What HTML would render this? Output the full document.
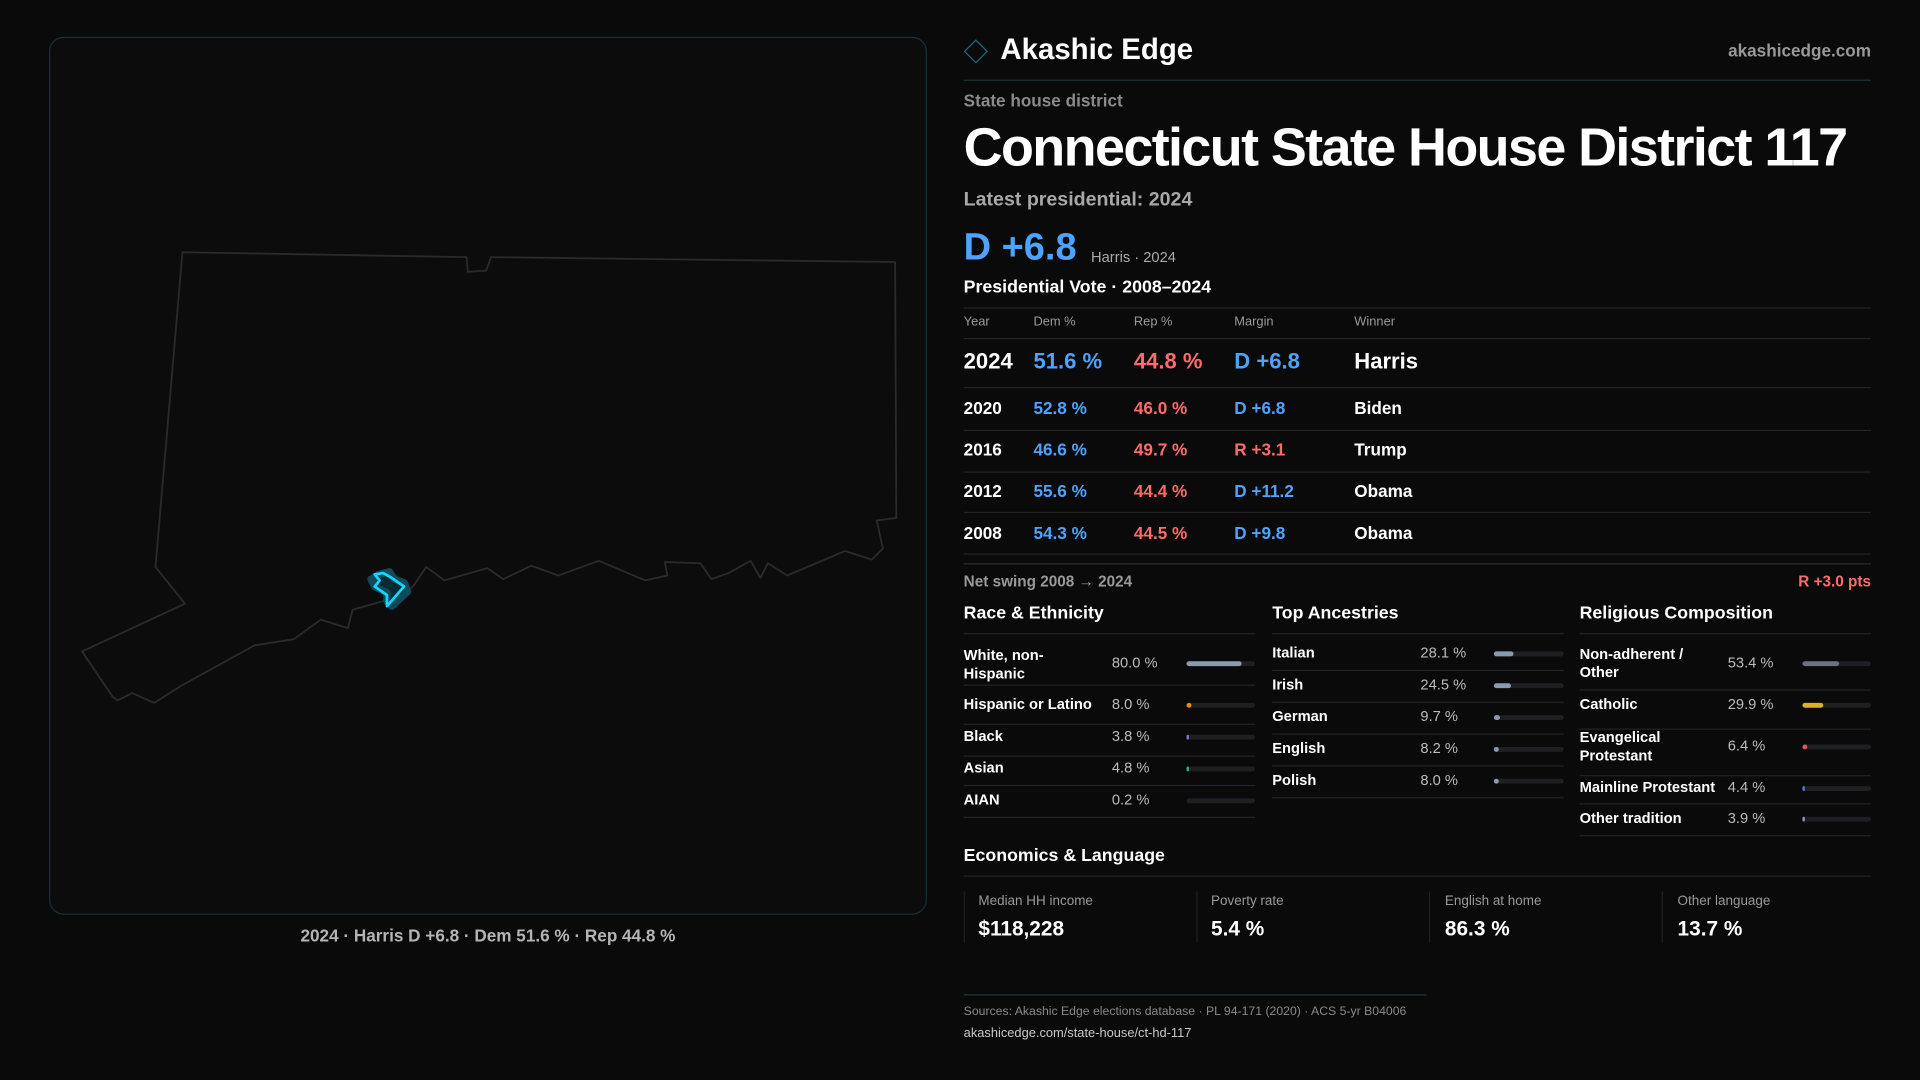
<!DOCTYPE html>
<html><head><meta charset="utf-8"><style>
*{margin:0;padding:0;box-sizing:border-box}
html,body{width:1920px;height:1080px;background:#0a0a0b;overflow:hidden;font-family:"Liberation Sans",sans-serif;color:#fff}
#s{position:absolute;left:0;top:0;width:1568px;height:882px;transform:scale(1.2244898);transform-origin:0 0}
.a{position:absolute;white-space:nowrap;line-height:1}
.ln{position:absolute;height:1px;background:#222326}
.g{color:#9a9a9a}
.b{font-weight:bold}
.bar{position:absolute;height:4px;border-radius:2px;background:#1e1f22}
.bar i{position:absolute;left:0;top:0;height:4px;border-radius:2px;display:block}
</style></head><body><div id="s">
<div style="position:absolute;left:40px;top:30px;width:717px;height:717px;border:1px solid #15303a;border-radius:12px;background:#0c0c0d;overflow:hidden">
<svg width="717" height="717" viewBox="40 30 717 717" style="position:absolute;left:-1px;top:-1px">
<polygon fill="none" stroke="#2a2a2c" stroke-width="1.5" stroke-linejoin="round" points="149,206 381,210 382,222 397,221 401,210 731,214 732,423 716,425 721,448 712,457 690,450 643,470 627,460 621,472 613,458 595,468 581,473 572,460 543,459 545,470 527,474 489,458 456,470 434,462 411,473 398,464 363,474 348,463 338,478 330,486 288,498 284,513 262,506 240,522 208,527 148,560 126,574 108,566 96,572 92,569 67,532 151,493 127,463"/>
<path d="M310,469 L318,467 L322,473 L330,476 L333,483 L320,495 L316,491 L316,484 L306,479 L303,473 Z" fill="#0a2a33" stroke="#0e4a58" stroke-width="6" stroke-linejoin="round"/>
<path d="M306,469 L313,468 L320,472 L330,479 L316,495 L316,486 L306,479 L310,474 Z" fill="none" stroke="#19d4ff" stroke-width="2.2" stroke-linejoin="round"/>
</svg></div>
<div class="a b" style="left:0;width:797px;text-align:center;top:757px;font-size:14px;color:#b4b4b4">2024 · Harris D +6.8 · Dem 51.6 % · Rep 44.8 %</div>

<div style="position:absolute;left:790px;top:35px;width:14px;height:14px;border:1.5px solid #1a6f7a;transform:rotate(45deg)"></div>
<div class="a b" style="left:817px;top:29px;font-size:24px">Akashic Edge</div>
<div class="a b g" style="right:40px;top:34px;font-size:14px;color:#999">akashicedge.com</div>
<div class="ln" style="left:787px;width:741px;top:65px;background:#1b3439"></div>
<div class="a b" style="left:787px;top:75px;font-size:14px;color:#8a8a8a">State house district</div>
<div class="a b" style="left:787px;top:99px;font-size:44px;letter-spacing:-1.3px">Connecticut State House District 117</div>
<div class="a b" style="left:787px;top:156px;font-size:16px;color:#a8a8a8">Latest presidential: 2024</div>
<div class="a b" style="left:787px;top:186px;font-size:31px;color:#4da3ff">D +6.8</div>
<div class="a" style="left:891px;top:204px;font-size:12px;color:#aaa">Harris · 2024</div>
<div class="a b" style="left:787px;top:228px;font-size:14.5px">Presidential Vote · 2008–2024</div>
<div class="ln" style="left:787px;width:741px;top:251px"></div>
<div class="a g" style="left:787px;top:258px;font-size:10.5px">Year</div>
<div class="a g" style="left:844px;top:258px;font-size:10.5px">Dem %</div>
<div class="a g" style="left:926px;top:258px;font-size:10.5px">Rep %</div>
<div class="a g" style="left:1008px;top:258px;font-size:10.5px">Margin</div>
<div class="a g" style="left:1106px;top:258px;font-size:10.5px">Winner</div>
<div class="ln" style="left:787px;width:741px;top:276px"></div>
<div class="a b" style="left:787px;top:286px;font-size:18px">2024</div>
<div class="a b" style="left:844px;top:286px;font-size:18px;color:#4da3ff">51.6 %</div>
<div class="a b" style="left:926px;top:286px;font-size:18px;color:#ff6b6b">44.8 %</div>
<div class="a b" style="left:1008px;top:286px;font-size:18px;color:#4da3ff">D +6.8</div>
<div class="a b" style="left:1106px;top:286px;font-size:18px">Harris</div>
<div class="ln" style="left:787px;width:741px;top:316px"></div>
<div class="a b" style="left:787px;top:326px;font-size:14px">2020</div><div class="a b" style="left:844px;top:326px;font-size:14px;color:#4da3ff">52.8 %</div><div class="a b" style="left:926px;top:326px;font-size:14px;color:#ff6b6b">46.0 %</div><div class="a b" style="left:1008px;top:326px;font-size:14px;color:#4da3ff">D +6.8</div><div class="a b" style="left:1106px;top:326px;font-size:14px">Biden</div>
<div class="ln" style="left:787px;width:741px;top:351px"></div>
<div class="a b" style="left:787px;top:360px;font-size:14px">2016</div><div class="a b" style="left:844px;top:360px;font-size:14px;color:#4da3ff">46.6 %</div><div class="a b" style="left:926px;top:360px;font-size:14px;color:#ff6b6b">49.7 %</div><div class="a b" style="left:1008px;top:360px;font-size:14px;color:#ff6b6b">R +3.1</div><div class="a b" style="left:1106px;top:360px;font-size:14px">Trump</div>
<div class="ln" style="left:787px;width:741px;top:385px"></div>
<div class="a b" style="left:787px;top:394px;font-size:14px">2012</div><div class="a b" style="left:844px;top:394px;font-size:14px;color:#4da3ff">55.6 %</div><div class="a b" style="left:926px;top:394px;font-size:14px;color:#ff6b6b">44.4 %</div><div class="a b" style="left:1008px;top:394px;font-size:14px;color:#4da3ff">D +11.2</div><div class="a b" style="left:1106px;top:394px;font-size:14px">Obama</div>
<div class="ln" style="left:787px;width:741px;top:418px"></div>
<div class="a b" style="left:787px;top:428px;font-size:14px">2008</div><div class="a b" style="left:844px;top:428px;font-size:14px;color:#4da3ff">54.3 %</div><div class="a b" style="left:926px;top:428px;font-size:14px;color:#ff6b6b">44.5 %</div><div class="a b" style="left:1008px;top:428px;font-size:14px;color:#4da3ff">D +9.8</div><div class="a b" style="left:1106px;top:428px;font-size:14px">Obama</div>
<div class="ln" style="left:787px;width:741px;top:452px"></div>
<div class="ln" style="left:787px;width:741px;top:460px;background:#2a2b2e"></div>
<div class="a b" style="left:787px;top:469px;font-size:12.5px;color:#999">Net swing 2008 → 2024</div>
<div class="a b" style="right:40px;top:469px;font-size:12.5px;color:#ff6b6b">R +3.0 pts</div>

<div class="a b" style="left:787px;top:494px;font-size:14.5px">Race &amp; Ethnicity</div>
<div class="a b" style="left:1039px;top:494px;font-size:14.5px">Top Ancestries</div>
<div class="a b" style="left:1290px;top:494px;font-size:14.5px">Religious Composition</div>
<div class="ln" style="left:787px;width:238px;top:517px"></div>
<div class="ln" style="left:1039px;width:238px;top:517px"></div>
<div class="ln" style="left:1290px;width:238px;top:517px"></div>

<div class="a b" style="left:787px;top:528px;font-size:12px;line-height:15px">White, non-<br>Hispanic</div><div class="a" style="left:908px;top:535px;font-size:12px;color:#bbb">80.0 %</div><div class="bar" style="left:969px;top:540px;width:56px"><i style="width:45px;background:#8d9aae"></i></div>
<div class="ln" style="left:787px;width:238px;top:559px"></div>
<div class="a b" style="left:787px;top:569px;font-size:12px">Hispanic or Latino</div><div class="a" style="left:908px;top:569px;font-size:12px;color:#bbb">8.0 %</div><div class="bar" style="left:969px;top:574px;width:56px"><i style="width:4px;background:#e8900c"></i></div>
<div class="ln" style="left:787px;width:238px;top:591px"></div>
<div class="a b" style="left:787px;top:595px;font-size:12px">Black</div><div class="a" style="left:908px;top:595px;font-size:12px;color:#bbb">3.8 %</div><div class="bar" style="left:969px;top:600px;width:56px"><i style="width:2px;background:#8b6fd6"></i></div>
<div class="ln" style="left:787px;width:238px;top:617px"></div>
<div class="a b" style="left:787px;top:621px;font-size:12px">Asian</div><div class="a" style="left:908px;top:621px;font-size:12px;color:#bbb">4.8 %</div><div class="bar" style="left:969px;top:626px;width:56px"><i style="width:2px;background:#2db37a"></i></div>
<div class="ln" style="left:787px;width:238px;top:641px"></div>
<div class="a b" style="left:787px;top:647px;font-size:12px">AIAN</div><div class="a" style="left:908px;top:647px;font-size:12px;color:#bbb">0.2 %</div><div class="bar" style="left:969px;top:652px;width:56px"></div>
<div class="ln" style="left:787px;width:238px;top:667px"></div>

<div class="a b" style="left:1039px;top:527px;font-size:12px">Italian</div><div class="a" style="left:1160px;top:527px;font-size:12px;color:#bbb">28.1 %</div><div class="bar" style="left:1220px;top:532px;width:57px"><i style="width:16px;background:#8d9aae"></i></div>
<div class="ln" style="left:1039px;width:238px;top:547px"></div>
<div class="a b" style="left:1039px;top:553px;font-size:12px">Irish</div><div class="a" style="left:1160px;top:553px;font-size:12px;color:#bbb">24.5 %</div><div class="bar" style="left:1220px;top:558px;width:57px"><i style="width:14px;background:#8d9aae"></i></div>
<div class="ln" style="left:1039px;width:238px;top:573px"></div>
<div class="a b" style="left:1039px;top:579px;font-size:12px">German</div><div class="a" style="left:1160px;top:579px;font-size:12px;color:#bbb">9.7 %</div><div class="bar" style="left:1220px;top:584px;width:57px"><i style="width:5px;background:#8d9aae"></i></div>
<div class="ln" style="left:1039px;width:238px;top:599px"></div>
<div class="a b" style="left:1039px;top:605px;font-size:12px">English</div><div class="a" style="left:1160px;top:605px;font-size:12px;color:#bbb">8.2 %</div><div class="bar" style="left:1220px;top:610px;width:57px"><i style="width:4px;background:#8d9aae"></i></div>
<div class="ln" style="left:1039px;width:238px;top:625px"></div>
<div class="a b" style="left:1039px;top:631px;font-size:12px">Polish</div><div class="a" style="left:1160px;top:631px;font-size:12px;color:#bbb">8.0 %</div><div class="bar" style="left:1220px;top:636px;width:57px"><i style="width:4px;background:#8d9aae"></i></div>
<div class="ln" style="left:1039px;width:238px;top:651px"></div>

<div class="a b" style="left:1290px;top:527px;font-size:12px;line-height:15px">Non-adherent /<br>Other</div><div class="a" style="left:1411px;top:535px;font-size:12px;color:#bbb">53.4 %</div><div class="bar" style="left:1472px;top:540px;width:56px"><i style="width:30px;background:#6b7280"></i></div>
<div class="ln" style="left:1290px;width:238px;top:563px"></div>
<div class="a b" style="left:1290px;top:569px;font-size:12px">Catholic</div><div class="a" style="left:1411px;top:569px;font-size:12px;color:#bbb">29.9 %</div><div class="bar" style="left:1472px;top:574px;width:56px"><i style="width:17px;background:#e0b020"></i></div>
<div class="ln" style="left:1290px;width:238px;top:595px"></div>
<div class="a b" style="left:1290px;top:595px;font-size:12px;line-height:15px">Evangelical<br>Protestant</div><div class="a" style="left:1411px;top:603px;font-size:12px;color:#bbb">6.4 %</div><div class="bar" style="left:1472px;top:608px;width:56px"><i style="width:4px;background:#e05555"></i></div>
<div class="ln" style="left:1290px;width:238px;top:633px"></div>
<div class="a b" style="left:1290px;top:637px;font-size:12px">Mainline Protestant</div><div class="a" style="left:1411px;top:637px;font-size:12px;color:#bbb">4.4 %</div><div class="bar" style="left:1472px;top:642px;width:56px"><i style="width:2px;background:#4a7fd6"></i></div>
<div class="ln" style="left:1290px;width:238px;top:656px"></div>
<div class="a b" style="left:1290px;top:662px;font-size:12px">Other tradition</div><div class="a" style="left:1411px;top:662px;font-size:12px;color:#bbb">3.9 %</div><div class="bar" style="left:1472px;top:667px;width:56px"><i style="width:2px;background:#8d9aae"></i></div>
<div class="ln" style="left:1290px;width:238px;top:682px"></div>

<div class="a b" style="left:787px;top:692px;font-size:14.5px">Economics &amp; Language</div>
<div class="ln" style="left:787px;width:741px;top:715px"></div>
<div style="position:absolute;left:787px;top:728px;width:1px;height:42px;background:#1e1f22"></div>
<div style="position:absolute;left:977px;top:728px;width:1px;height:42px;background:#1e1f22"></div>
<div style="position:absolute;left:1167px;top:728px;width:1px;height:42px;background:#1e1f22"></div>
<div style="position:absolute;left:1357px;top:728px;width:1px;height:42px;background:#1e1f22"></div>
<div class="a" style="left:799px;top:731px;font-size:11px;color:#999">Median HH income</div><div class="a b" style="left:799px;top:750px;font-size:17px">$118,228</div>
<div class="a" style="left:989px;top:731px;font-size:11px;color:#999">Poverty rate</div><div class="a b" style="left:989px;top:750px;font-size:17px">5.4 %</div>
<div class="a" style="left:1180px;top:731px;font-size:11px;color:#999">English at home</div><div class="a b" style="left:1180px;top:750px;font-size:17px">86.3 %</div>
<div class="a" style="left:1370px;top:731px;font-size:11px;color:#999">Other language</div><div class="a b" style="left:1370px;top:750px;font-size:17px">13.7 %</div>

<div class="ln" style="left:787px;width:378px;top:812px;background:#163a40"></div>
<div class="a" style="left:787px;top:822px;font-size:10px;color:#8a8a8a">Sources: Akashic Edge elections database · PL 94-171 (2020) · ACS 5-yr B04006</div>
<div class="a" style="left:787px;top:839px;font-size:10.5px;color:#c8c8c8">akashicedge.com/state-house/ct-hd-117</div>
</div></body></html>
